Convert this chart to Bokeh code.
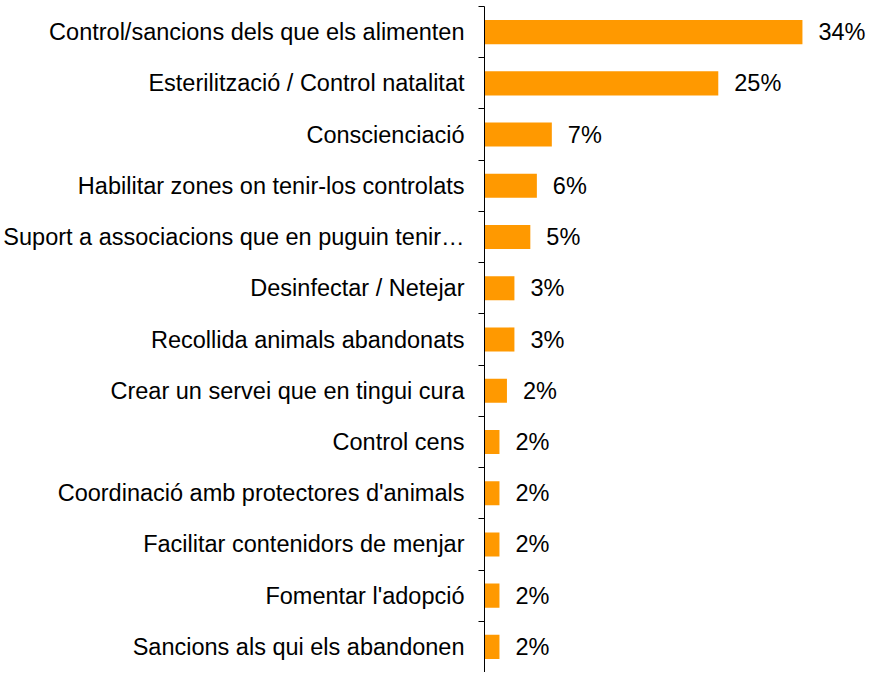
from bokeh.plotting import figure
from bokeh.models import ColumnDataSource, Range1d, FixedTicker, LabelSet
from bokeh.core.properties import value
from bokeh.embed import file_html
from bokeh.resources import INLINE

categories = [
    "Control/sancions dels que els alimenten",
    "Esterilització / Control natalitat",
    "Conscienciació",
    "Habilitar zones on tenir-los controlats",
    "Suport a associacions que en puguin tenir…",
    "Desinfectar / Netejar",
    "Recollida animals abandonats",
    "Crear un servei que en tingui cura",
    "Control cens",
    "Coordinació amb protectores d'animals",
    "Facilitar contenidors de menjar",
    "Fomentar l'adopció",
    "Sancions als qui els abandonen",
]
values = [34.0, 25.0, 7.2, 5.6, 4.9, 3.2, 3.2, 2.4, 1.6, 1.6, 1.6, 1.6, 1.6]
value_labels = ["34%", "25%", "7%", "6%", "5%", "3%", "3%", "2%", "2%", "2%", "2%", "2%", "2%"]

n = len(categories)
ypos = [n - 1 - i for i in range(n)]

src = ColumnDataSource(dict(y=ypos, v=values, lab=value_labels))

p = figure(width=866, height=672, output_backend="svg", toolbar_location=None,
           x_range=Range1d(0, 40.85), y_range=Range1d(-0.5, n - 0.5),
           min_border_left=478, min_border_right=0, min_border_top=6, min_border_bottom=0,
           x_axis_location=None)
p.outline_line_color = None
p.grid.visible = False
p.background_fill_color = "white"
p.border_fill_color = "white"

p.hbar(y="y", right="v", left=0, height=0.47, source=src, fill_color="#FF9900", line_color=None)

labels = LabelSet(x="v", y="y", text="lab", source=src, x_offset=16, text_align="left",
                  text_baseline="middle", text_font=value("Liberation Sans"),
                  text_font_size=value("23.5px"), text_color="black")
p.add_layout(labels)

yax = p.yaxis[0]
yax.ticker = FixedTicker(ticks=ypos, minor_ticks=[i - 0.5 for i in range(n + 1)])
yax.major_label_overrides = {y: c for y, c in zip(ypos, categories)}
yax.major_tick_line_color = None
yax.major_tick_out = 0
yax.major_tick_in = 0
yax.minor_tick_out = 6
yax.minor_tick_in = 0
yax.minor_tick_line_color = "black"
yax.minor_tick_line_width = 1
yax.axis_line_color = "black"
yax.major_label_standoff = 14
yax.major_label_text_font = "Liberation Sans"
yax.major_label_text_font_size = "23.5px"
yax.major_label_text_color = "black"

open("out.html", "w").write(file_html(p, INLINE))
